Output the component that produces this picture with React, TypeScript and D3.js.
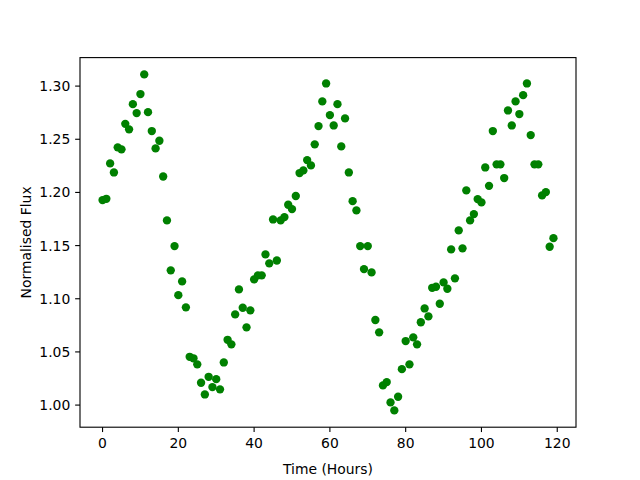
import React from "react";
import * as d3 from "d3";

const hours: number[] = Array.from({ length: 120 }, (_, i) => i);
const flux: number[] = [
  1.1928, 1.194, 1.2273, 1.2188, 1.2424, 1.2405, 1.2645, 1.2593, 1.283, 1.2746,
  1.2925, 1.311, 1.2755, 1.2577, 1.2414, 1.2486, 1.215, 1.1737, 1.1267, 1.1495,
  1.1034, 1.1163, 1.0919, 1.0454, 1.044, 1.0383, 1.021, 1.01, 1.0266, 1.0169,
  1.0244, 1.0148, 1.0401, 1.0614, 1.0571, 1.0853, 1.1088, 1.0915, 1.0731, 1.0891,
  1.1182, 1.122, 1.122, 1.1417, 1.1333, 1.1746, 1.136, 1.1737, 1.1768, 1.1884,
  1.1843, 1.1966, 1.2182, 1.2207, 1.2304, 1.2254, 1.2452, 1.2624, 1.2856, 1.3025,
  1.2727, 1.263, 1.283, 1.2433, 1.2696, 1.2188, 1.1918, 1.1831, 1.1495, 1.1279,
  1.1495, 1.1248, 1.08, 1.0684, 1.0185, 1.0216, 1.0025, 0.995, 1.0078, 1.0338,
  1.0602, 1.0383, 1.0637, 1.0571, 1.0779, 1.0909, 1.0834, 1.1103, 1.1113, 1.0953,
  1.1154, 1.1094, 1.1464, 1.1192, 1.1643, 1.1474, 1.2019, 1.1737, 1.1796, 1.1937,
  1.1906, 1.2235, 1.2062, 1.2577, 1.2264, 1.2264, 1.2135, 1.2771, 1.263, 1.2856,
  1.2737, 1.2915, 1.3025, 1.2539, 1.2264, 1.2264, 1.1972, 1.2003, 1.1489, 1.157,
];
const xTicks: number[] = [0, 20, 40, 60, 80, 100, 120];
const yTicks: number[] = [1.0, 1.05, 1.1, 1.15, 1.2, 1.25, 1.3];
const xLabel = "Time (Hours)";
const yLabel = "Normalised Flux";

const W = 640, H = 480;
const L = 80, R = 576, T = 57.6, B = 427.2;
const FONT = "'DejaVu Sans', sans-serif";
const FS = 13.9;

export default function App() {
  const xMin = d3.min(hours)!, xMax = d3.max(hours)!;
  const yMin = d3.min(flux)!, yMax = d3.max(flux)!;
  const xm = (xMax - xMin) * 0.05, ym = (yMax - yMin) * 0.05;
  const x = d3.scaleLinear().domain([xMin - xm, xMax + xm]).range([L, R]);
  const y = d3.scaleLinear().domain([yMin - ym, yMax + ym]).range([B, T]);
  const tick = 4.86;
  const fmt = d3.format(".2f");
  return (
    <svg width={W} height={H} style={{ position: "absolute", left: 0, top: 0, background: "#fff" }}
      fontFamily={FONT} fontSize={FS}>
      <rect x={0} y={0} width={W} height={H} fill="#fff" />
      {hours.map((h, i) => (
        <circle key={i} cx={x(h)} cy={y(flux[i])} r={4.17} fill="#008000" />
      ))}
      <rect x={L} y={T} width={R - L} height={B - T} fill="none" stroke="#000" strokeWidth={1.11} />
      {xTicks.map((t) => (
        <g key={"x" + t}>
          <line x1={x(t)} x2={x(t)} y1={B} y2={B + tick} stroke="#000" strokeWidth={1.11} />
          <text x={x(t)} y={B + tick + 4.86 + 10.6} textAnchor="middle" fill="#000">{t}</text>
        </g>
      ))}
      {yTicks.map((t) => (
        <g key={"y" + t}>
          <line x1={L - tick} x2={L} y1={y(t)} y2={y(t)} stroke="#000" strokeWidth={1.11} />
          <text x={L - tick - 4.86} y={y(t) + 5} textAnchor="end" fill="#000">{fmt(t)}</text>
        </g>
      ))}
      <text x={(L + R) / 2} y={474} textAnchor="middle" fill="#000">{xLabel}</text>
      <text transform={`translate(31,${(T + B) / 2}) rotate(-90)`} textAnchor="middle" fill="#000">{yLabel}</text>
    </svg>
  );
}
